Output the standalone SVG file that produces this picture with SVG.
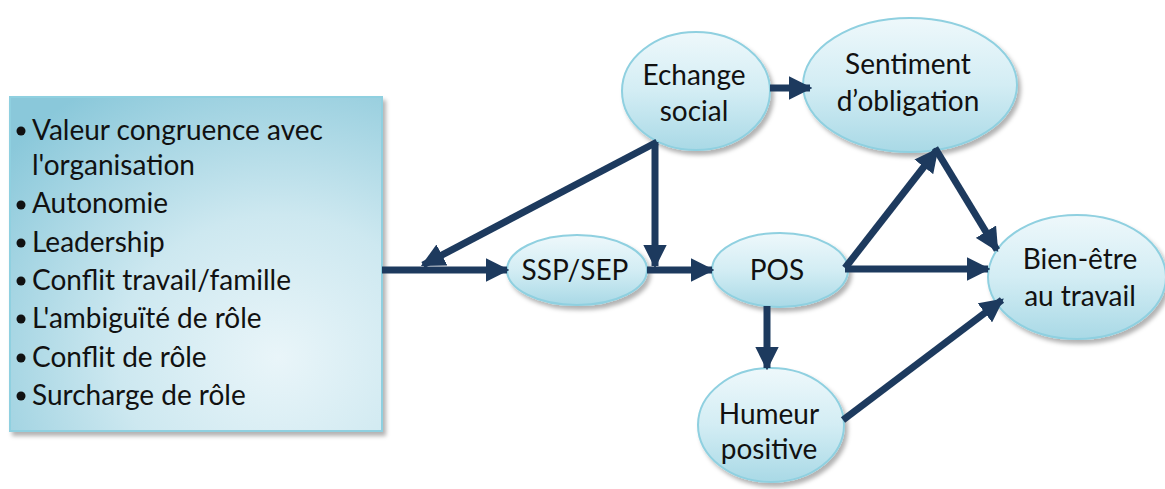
<svg xmlns="http://www.w3.org/2000/svg" width="1165" height="489" viewBox="0 0 1165 489">
<defs>
<radialGradient id="boxg" cx="0.72" cy="0.78" r="0.95" fx="0.72" fy="0.78">
<stop offset="0" stop-color="#e9f5f9"/>
<stop offset="0.45" stop-color="#cde8f0"/>
<stop offset="1" stop-color="#8ac8da"/>
</radialGradient>
<linearGradient id="ellg" x1="0" y1="0" x2="0" y2="1">
<stop offset="0" stop-color="#eef8fb"/>
<stop offset="0.5" stop-color="#d3edf4"/>
<stop offset="1" stop-color="#a9d9e6"/>
</linearGradient>
<filter id="sh" x="-10%" y="-10%" width="125%" height="125%">
<feDropShadow dx="3" dy="4" stdDeviation="2" flood-color="#000" flood-opacity="0.3"/>
</filter>
<marker id="ah" viewBox="0 0 10 10" refX="9" refY="5" markerWidth="3.4" markerHeight="3.4" markerUnits="strokeWidth" orient="auto">
<path d="M0,0 L10,5 L0,10 Z" fill="#1d3a5e"/>
</marker>
</defs>
<style>
.n ellipse{fill:url(#ellg);stroke:#8fd0e0;stroke-width:2;filter:url(#sh)}
text{font-family:Lato,"Open Sans","Liberation Sans",sans-serif;font-size:28px;fill:#111}
.c{text-anchor:middle}
.e line{stroke:#1d3a5e;stroke-width:7;fill:none;marker-end:url(#ah)}
</style>
<rect width="1165" height="489" fill="#fff"/>
<g id="box">
<rect x="10" y="97" width="372" height="334" fill="url(#boxg)" stroke="#8fd0e0" stroke-width="2" filter="url(#sh)"/>
<g fill="#111">
<circle cx="21" cy="131" r="4.5"/><circle cx="21" cy="205" r="4.5"/><circle cx="21" cy="243" r="4.5"/><circle cx="21" cy="281" r="4.5"/><circle cx="21" cy="319" r="4.5"/><circle cx="21" cy="358" r="4.5"/><circle cx="21" cy="396" r="4.5"/>
</g>
<text x="32" y="140">Valeur congruence avec</text>
<text x="32" y="175">l'organisation</text>
<text x="32" y="213">Autonomie</text>
<text x="32" y="252">Leadership</text>
<text x="32" y="290">Conflit travail/famille</text>
<text x="32" y="328">L'ambiguïté de rôle</text>
<text x="32" y="367">Conflit de rôle</text>
<text x="32" y="405">Surcharge de rôle</text>
</g>
<g id="echange" class="n"><ellipse cx="696" cy="91" rx="74" ry="59"/><text class="c" x="694" y="85">Echange</text><text class="c" x="694" y="121">social</text></g>
<g id="sentiment" class="n"><ellipse cx="910" cy="85" rx="107" ry="67"/><text class="c" x="908" y="74">Sentiment</text><text class="c" x="908" y="111">d’obligation</text></g>
<g id="ssp" class="n"><ellipse cx="577" cy="270" rx="70" ry="35"/><text class="c" x="575" y="280">SSP/SEP</text></g>
<g id="pos" class="n"><ellipse cx="780" cy="270" rx="68" ry="37"/><text class="c" x="777" y="280">POS</text></g>
<g id="bienetre" class="n"><ellipse cx="1077" cy="277" rx="89" ry="62"/><text class="c" x="1080" y="269">Bien-être</text><text class="c" x="1080" y="306">au travail</text></g>
<g id="humeur" class="n"><ellipse cx="771" cy="425" rx="73" ry="57"/><text class="c" x="769" y="424">Humeur</text><text class="c" x="769" y="459">positive</text></g>
<g id="connectors" class="e">
<line x1="382" y1="270" x2="507" y2="270"/>
<line x1="657" y1="142" x2="423" y2="265"/>
<line x1="655" y1="142" x2="655" y2="266"/>
<line x1="647" y1="270" x2="712" y2="270"/>
<line x1="770" y1="88" x2="810" y2="88"/>
<line x1="845" y1="268" x2="937" y2="150"/>
<line x1="935" y1="148" x2="997" y2="250"/>
<line x1="845" y1="269" x2="988" y2="269"/>
<line x1="767" y1="306" x2="767" y2="368"/>
<line x1="843" y1="420" x2="1002" y2="300"/>
</g>
</svg>
